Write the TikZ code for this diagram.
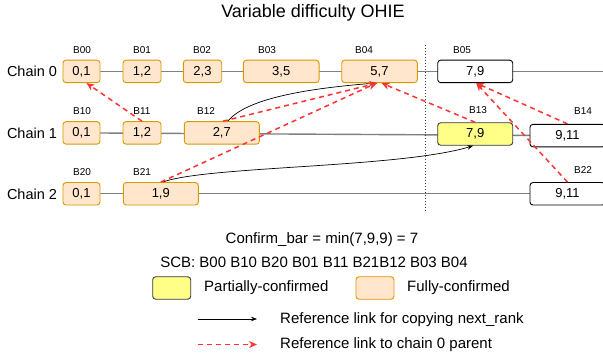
\documentclass[tikz,border=0pt]{standalone}
\usepackage{fontspec}
\setmainfont{Liberation Sans}
\usetikzlibrary{arrows.meta,backgrounds}
\definecolor{fcfill}{HTML}{FFE6CC}
\definecolor{fcdraw}{HTML}{D79B00}
\definecolor{pcfill}{HTML}{FFFF88}
\definecolor{pcdraw}{HTML}{36393D}
\definecolor{reflink}{HTML}{FF3333}
\definecolor{chainline}{HTML}{808080}
\tikzset{
  blk/.style={draw, rounded corners=3pt, inner sep=0pt, minimum height=22.5pt, line width=0.9pt, font=\fontsize{13}{13}\selectfont},
  fullc/.style={blk, fill=fcfill, draw=fcdraw},
  partc/.style={blk, fill=pcfill, draw=pcdraw},
  newb/.style={blk, fill=white, draw=black},
  blab/.style={font=\fontsize{10}{10}\selectfont, inner sep=0pt},
  chlab/.style={font=\fontsize{14.5}{14.5}\selectfont, inner sep=0pt},
  txt/.style={font=\fontsize{15}{15}\selectfont, inner sep=0pt},
  chln/.style={draw=chainline, line width=1.4pt},
  copylink/.style={draw=black, line width=0.7pt, -{Stealth[length=6pt,width=4.5pt]}},
  parlink/.style={draw=reflink, line width=1.5pt, dash pattern=on 5pt off 4pt, -{Stealth[length=8pt,width=7pt]}},
}
\begin{document}
\begin{tikzpicture}[x=1pt,y=-1pt]
\clip (0,0) rectangle (603,358);

\node[font=\fontsize{18}{18}\selectfont, inner sep=0pt] (title) at (313,13) {Variable difficulty OHIE};

% chain labels
\node[chlab] (ch0) at (32,71.5) {Chain 0};
\node[chlab] (ch1) at (32,133) {Chain 1};
\node[chlab] (ch2) at (32,194) {Chain 2};

% chain 0
\node[fullc, minimum width=37pt] (b00) at (81.5,71.4) {0,1};
\node[fullc, minimum width=38pt] (b01) at (142,71.4) {1,2};
\node[fullc, minimum width=38.4pt] (b02) at (202.5,71.4) {2,3};
\node[fullc, minimum width=75.7pt] (b03) at (281.2,71.4) {3,5};
\node[fullc, minimum width=75.6pt] (b04) at (379.5,71.4) {5,7};
\node[newb, minimum width=75pt] (b05) at (475.2,71.4) {7,9};
% chain 1
\node[fullc, minimum width=37pt] (b10) at (81.5,132.9) {0,1};
\node[fullc, minimum width=38pt] (b11) at (142,132.9) {1,2};
\node[fullc, minimum width=75pt] (b12) at (221.8,132.9) {2,7};
\node[partc, minimum width=75pt] (b13) at (475.2,134) {7,9};
\node[newb, minimum width=75pt] (b14) at (567.5,135.6) {9,11};
% chain 2
\node[fullc, minimum width=37pt] (b20) at (81.5,193.8) {0,1};
\node[fullc, minimum width=75pt] (b21) at (160.8,193.8) {1,9};
\node[newb, minimum width=75pt] (b22) at (567.5,193.8) {9,11};

% block labels
\node[blab] (l00) at (82,50) {B00};
\node[blab] (l01) at (142,50) {B01};
\node[blab] (l02) at (202,50) {B02};
\node[blab] (l03) at (267,50) {B03};
\node[blab] (l04) at (364,50) {B04};
\node[blab] (l05) at (462,50) {B05};
\node[blab] (l10) at (82,111) {B10};
\node[blab] (l11) at (142,111) {B11};
\node[blab] (l12) at (206,111) {B12};
\node[blab] (l13) at (478,110.5) {B13};
\node[blab] (l14) at (583,111) {B14};
\node[blab] (l20) at (82,172) {B20};
\node[blab] (l21) at (142,172) {B21};
\node[blab] (l22) at (583,170.5) {B22};

\coordinate (end0) at (605,71.4);
\begin{scope}[on background layer]
  \fill[white] (0,0) rectangle (603,358);
  \draw[chln] (b00.center) -- (b05.center) -- (end0);
  \draw[chln] (b10.center) -- (b14.center);
  \draw[chln] (b20.center) -- (b22.center);
\end{scope}

% confirm bar divider
\coordinate (dv0) at (425,45);
\coordinate (dv1) at (425,212);
\draw[black!75, line width=0.6pt, dash pattern=on 1.5pt off 1.5pt] (dv0) -- (dv1);

% copy links
\draw[copylink] ([xshift=6pt]b12.north) .. controls (245,100) and (300,89) .. ([xshift=-4pt]b04.south);
\draw[copylink] ([xshift=2pt]b21.north) .. controls (205,166) and (400,168) .. ([xshift=-2pt]b13.south);

% parent links
\draw[parlink] (b11.north) -- ([xshift=5pt]b00.south);
\draw[parlink] ([xshift=1pt]b12.north) -- ([xshift=-2pt]b04.south);
\draw[parlink] (b21.north) -- ([xshift=-3pt]b04.south);
\draw[parlink] (b13.north) -- ([xshift=2pt]b04.south);
\draw[parlink] (b14.north) -- ([xshift=1pt]b05.south);
\draw[parlink] (b22.north) -- ([xshift=1pt]b05.south);

% texts
\node[txt] (cb) at (322,239.5) {Confirm\_bar = min(7,9,9) = 7};
\node[txt] (scb) at (314,262) {SCB: B00 B10 B20 B01 B11 B21B12 B03 B04};

% legend
\node[partc, minimum width=38pt, minimum height=22.5pt] (lgp) at (171.7,288) {};
\node[txt, anchor=west] (lgpt) at (204,288) {Partially-confirmed};
\node[fullc, minimum width=38pt, minimum height=22.5pt] (lgf) at (375,288) {};
\node[txt, anchor=west] (lgft) at (407,288) {Fully-confirmed};

\coordinate (la0) at (197.7,319);
\coordinate (la1) at (257,319);
\draw[copylink] (la0) -- (la1);
\node[txt, anchor=west] (lat) at (280,319.5) {Reference link for copying next\_rank};

\coordinate (lb0) at (197.7,344.5);
\coordinate (lb1) at (257,344.5);
\draw[parlink] (lb0) -- (lb1);
\node[txt, anchor=west] (lbt) at (280,345) {Reference link to chain 0 parent};
\end{tikzpicture}
\end{document}
